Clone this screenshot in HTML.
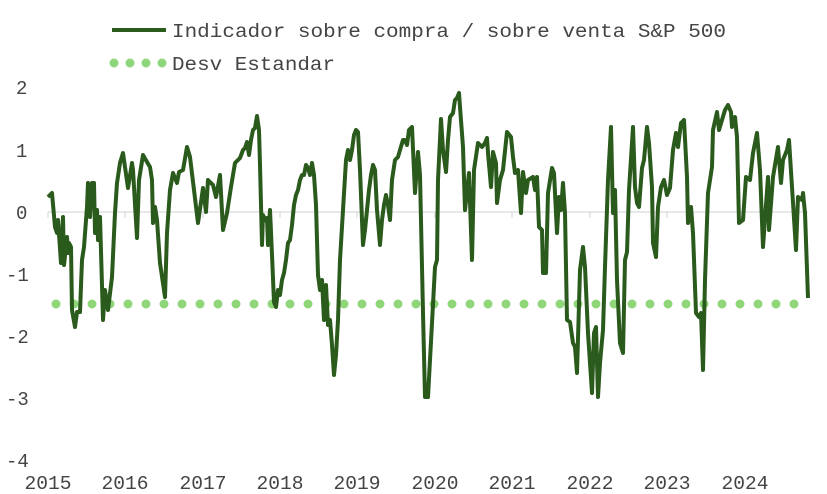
<!DOCTYPE html>
<html><head><meta charset="utf-8"><style>html,body{margin:0;padding:0;background:#fff}svg{display:block}</style></head>
<body>
<svg width="827" height="494" viewBox="0 0 827 494" xmlns="http://www.w3.org/2000/svg" font-family="Liberation Mono, monospace">
<line x1="112" y1="30" x2="166" y2="30" stroke="#2a5a1c" stroke-width="4"/>
<text x="172" y="37" font-size="19" fill="#444" textLength="554" lengthAdjust="spacingAndGlyphs">Indicador sobre compra / sobre venta S&amp;P 500</text>
<g fill="#8fd67a"><circle cx="114" cy="63" r="4.5"/><circle cx="130" cy="63" r="4.5"/><circle cx="146" cy="63" r="4.5"/><circle cx="162" cy="63" r="4.5"/></g>
<text x="172" y="70" font-size="19" fill="#444" textLength="163" lengthAdjust="spacingAndGlyphs">Desv Estandar</text>
<g font-size="19" fill="#444">
<text x="16" y="94">2</text><text x="16" y="157">1</text><text x="16" y="219">0</text>
<text x="6" y="281">-1</text><text x="6" y="343">-2</text><text x="6" y="405">-3</text><text x="6" y="467">-4</text>
</g>
<line x1="48" y1="212" x2="808" y2="212" stroke="#d0d0d0" stroke-width="1"/>
<g stroke="#d0d0d0"><line x1="48" y1="212" x2="48" y2="218"/><line x1="125" y1="212" x2="125" y2="218"/><line x1="203" y1="212" x2="203" y2="218"/><line x1="280" y1="212" x2="280" y2="218"/><line x1="357" y1="212" x2="357" y2="218"/><line x1="435" y1="212" x2="435" y2="218"/><line x1="512" y1="212" x2="512" y2="218"/><line x1="590" y1="212" x2="590" y2="218"/><line x1="667" y1="212" x2="667" y2="218"/><line x1="745" y1="212" x2="745" y2="218"/></g>
<g font-size="19" fill="#444" text-anchor="middle">
<text x="48" y="489" textLength="47" lengthAdjust="spacingAndGlyphs">2015</text>
<text x="125" y="489" textLength="47" lengthAdjust="spacingAndGlyphs">2016</text>
<text x="203" y="489" textLength="47" lengthAdjust="spacingAndGlyphs">2017</text>
<text x="280" y="489" textLength="47" lengthAdjust="spacingAndGlyphs">2018</text>
<text x="357" y="489" textLength="47" lengthAdjust="spacingAndGlyphs">2019</text>
<text x="435" y="489" textLength="47" lengthAdjust="spacingAndGlyphs">2020</text>
<text x="512" y="489" textLength="47" lengthAdjust="spacingAndGlyphs">2021</text>
<text x="590" y="489" textLength="47" lengthAdjust="spacingAndGlyphs">2022</text>
<text x="667" y="489" textLength="47" lengthAdjust="spacingAndGlyphs">2023</text>
<text x="745" y="489" textLength="47" lengthAdjust="spacingAndGlyphs">2024</text>
</g>
<line x1="56" y1="304" x2="795" y2="304" stroke="#8fd67a" stroke-width="9" stroke-linecap="round" stroke-dasharray="0 18"/>
<polyline fill="none" stroke="#2a5a1c" stroke-width="4" stroke-linejoin="round" points="48,197 52,193 55,227 57,233 58,220 61,263 63,217 64,265 67,237 68,253 69,243 71,247 72,310 75,327 77,312 80,312 82,260 84,247 87,207 88,183 90,217 92,183 94,183 95,233 97,210 98,240 100,217 103,320 105,290 108,310 112,277 115,213 117,183 120,163 123,153 125,167 128,188 132,163 133,170 137,238 139,180 143,155 147,162 150,167 152,180 153,223 155,207 157,220 160,263 165,297 167,233 170,190 173,173 177,183 179,172 183,170 187,147 190,157 194,190 198,223 203,188 206,212 208,180 213,185 216,197 220,175 223,230 227,213 231,187 235,163 240,158 243,150 245,148 247,142 249,155 251,140 253,130 255,128 257,116 259,130 260,165 262,245 263,215 265,220 267,218 268,245 270,210 272,255 274,302 276,307 278,290 280,295 282,280 284,273 286,260 288,243 290,240 292,225 294,205 296,195 298,190 300,180 302,175 304,175 306,165 308,168 310,175 312,163 314,175 316,205 318,275 320,290 322,280 324,320 326,285 328,325 330,320 332,345 334,375 336,355 338,320 340,260 343,210 346,160 348,150 350,160 352,150 354,135 356,130 358,132 360,170 363,245 365,230 367,210 369,190 371,175 373,165 375,170 377,210 380,245 382,220 384,205 386,195 388,205 390,220 392,180 395,160 398,157 400,150 403,140 405,140 407,145 409,130 412,127 415,193 418,152 420,175 423,313 425,397 428,397 432,323 435,267 437,260 438,180 441,119 443,150 446,172 448,140 450,117 453,113 455,100 457,98 459,93 460,107 463,147 465,210 469,173 472,260 474,170 478,143 482,147 485,143 487,138 488,153 491,187 493,152 496,163 497,203 500,180 503,170 507,132 511,137 513,157 515,173 518,170 521,213 523,172 526,193 528,180 533,177 535,190 537,177 539,227 542,230 543,273 546,273 548,193 552,168 554,173 557,233 559,197 561,210 563,183 565,213 567,320 570,322 573,343 575,347 577,373 580,270 583,247 585,267 588,333 592,393 594,333 596,327 598,397 600,363 603,330 605,267 608,180 611,127 613,213 615,190 617,280 620,343 623,353 625,260 627,252 629,190 633,127 635,187 637,203 639,207 642,168 644,160 647,127 649,143 652,187 653,243 656,257 658,207 661,187 664,180 667,195 670,188 673,150 676,133 678,147 681,123 684,120 687,177 688,223 691,207 693,233 696,313 699,317 701,313 703,370 705,280 708,193 712,167 713,130 717,112 719,130 722,120 725,110 728,105 731,112 732,127 735,117 737,137 739,223 743,220 746,177 750,180 753,153 757,133 760,170 763,247 768,177 769,230 773,177 778,147 781,183 783,160 787,150 789,140 792,187 796,250 798,197 802,200 803,193 805,213 808,298"/>
</svg>
</body></html>
